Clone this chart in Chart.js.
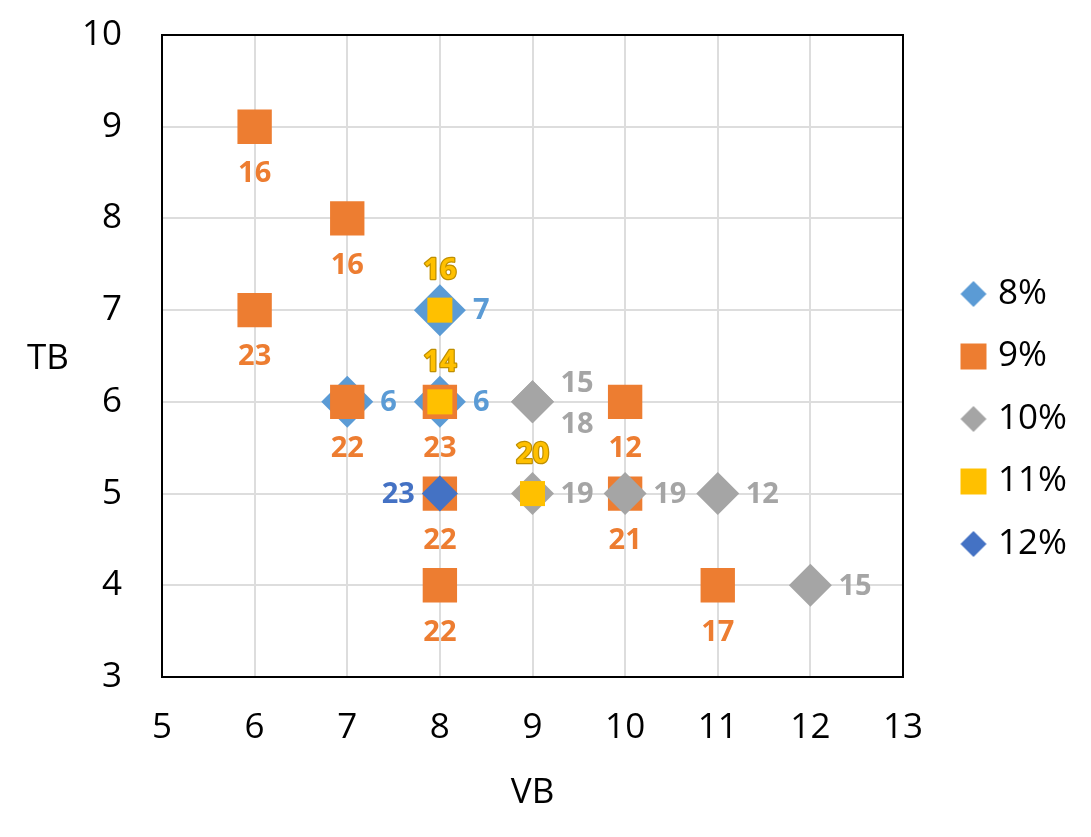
<!DOCTYPE html>
<html>
<head>
<meta charset="utf-8">
<script src="https://cdn.jsdelivr.net/npm/chart.js@4.4.1/dist/chart.umd.min.js"></script>
<style>
  html, body { margin: 0; padding: 0; background: #ffffff; }
  canvas { display: block; }
</style>
</head>
<body>
<canvas id="c" width="1091" height="837"></canvas>
<script>
// ---------- data ----------
const seriesNames = ['8%', '9%', '10%', '11%', '12%'];

const vb8  = [8, 7, 8];
const tb8  = [7, 6, 6];
const lbl8 = [7, 6, 6];

const vb9  = [6, 7, 6, 7, 8, 8, 8, 10, 10, 11];
const tb9  = [9, 8, 7, 6, 6, 5, 4, 6, 5, 4];
const lbl9 = [16, 16, 23, 22, 23, 22, 22, 12, 21, 17];

const vb10  = [9, 9, 9, 10, 11, 12];
const tb10  = [6, 6, 5, 5, 5, 4];
const lbl10 = [15, 18, 19, 19, 12, 15];

const vb11  = [8, 8, 9];
const tb11  = [7, 6, 5];
const lbl11 = [16, 14, 20];

const vb12  = [8];
const tb12  = [5];
const lbl12 = [23];

const xTicks = [5, 6, 7, 8, 9, 10, 11, 12, 13];
const yTicks = [3, 4, 5, 6, 7, 8, 9, 10];

// ---------- styling ----------
const FONT = "'Open Sans', 'DejaVu Sans', sans-serif";
const COLORS = ['#5B9BD5', '#ED7D31', '#A5A5A5', '#FFC000', '#4472C4'];

function pts(xs, ys) { return xs.map((x, i) => ({ x: x, y: ys[i] })); }

const datasetDefs = [
  { vb: vb8,  tb: tb8,  lbl: lbl8,  style: 'rectRot', radius: 26,   pos: null, defPos: 'right', gap: 33 },
  { vb: vb9,  tb: tb9,  lbl: lbl9,  style: 'rect',    radius: 24.3, pos: null, defPos: 'below', gap: 46 },
  { vb: vb10, tb: tb10, lbl: lbl10, style: 'rectRot', radius: 21.5, pos: ['rightUp', 'rightDown', 'right', 'right', 'right', 'right'], gap: 28 },
  { vb: vb11, tb: tb11, lbl: lbl11, style: 'rect',    radius: 17.7, pos: null, defPos: 'above', gap: 40, outline: '#BF8F00' },
  { vb: vb12, tb: tb12, lbl: lbl12, style: 'rectRot', radius: 18,   pos: null, defPos: 'left', gap: 25 }
];

const datasets = datasetDefs.map((d, i) => ({
  label: seriesNames[i],
  data: pts(d.vb, d.tb),
  order: datasetDefs.length - i,
  pointStyle: d.style,
  pointRadius: d.radius,
  pointHoverRadius: d.radius,
  pointBackgroundColor: COLORS[i],
  pointBorderColor: COLORS[i],
  pointBorderWidth: 0,
  backgroundColor: COLORS[i],
  borderColor: COLORS[i],
  showLine: false
}));

// legend marker images
function markerImage(style, color) {
  const c = document.createElement('canvas');
  c.width = 28; c.height = 28;
  const g = c.getContext('2d');
  g.fillStyle = color;
  if (style === 'rect') {
    g.fillRect(1, 1, 26, 26);
  } else {
    g.beginPath();
    g.moveTo(14, 1); g.lineTo(27, 14); g.lineTo(14, 27); g.lineTo(1, 14);
    g.closePath(); g.fill();
  }
  return c;
}
const legendImages = datasetDefs.map((d, i) => markerImage(d.style, COLORS[i]));

// ---------- plugins ----------
const layoutPlugin = {
  id: 'layoutTweak',
  beforeLayout(chart) {
    const lg = chart.legend;
    if (lg && !lg._patched) {
      const orig = lg.fit.bind(lg);
      lg.fit = function () { orig(); this.width = 188; };
      lg._patched = true;
    }
  },
  afterLayout(chart) {
    const lg = chart.legend;
    if (lg) { lg.left += 36; lg.top -= 17; lg.bottom -= 17; }
  }
};

const framePlugin = {
  id: 'frame',
  beforeDatasetsDraw(chart) {
    const a = chart.chartArea;
    const ctx = chart.ctx;
    ctx.save();
    ctx.strokeStyle = '#000000';
    ctx.lineWidth = 2;
    ctx.strokeRect(a.left, a.top, a.right - a.left, a.bottom - a.top);
    // horizontal y-axis title
    ctx.fillStyle = '#000000';
    ctx.font = '35px ' + FONT;
    ctx.textAlign = 'center';
    ctx.textBaseline = 'middle';
    ctx.fillText('TB', 48, (a.top + a.bottom) / 2 + 3);
    ctx.restore();
  }
};

const labelPlugin = {
  id: 'pointLabels',
  afterDatasetsDraw(chart) {
    const ctx = chart.ctx;
    ctx.save();
    ctx.font = 'bold 29px ' + FONT;
    ctx.textBaseline = 'middle';
    datasetDefs.forEach((d, di) => {
      const meta = chart.getDatasetMeta(di);
      meta.data.forEach((el, pi) => {
        const pos = d.pos ? d.pos[pi] : d.defPos;
        const text = String(d.lbl[pi]);
        let x = el.x, y = el.y + 1;
        if (pos === 'below') { ctx.textAlign = 'center'; y += d.gap; }
        else if (pos === 'above') { ctx.textAlign = 'center'; y -= d.gap; }
        else if (pos === 'right') { ctx.textAlign = 'left'; x += d.gap; }
        else if (pos === 'rightUp') { ctx.textAlign = 'left'; x += d.gap; y -= 19; }
        else if (pos === 'rightDown') { ctx.textAlign = 'left'; x += d.gap; y += 22; }
        else if (pos === 'left') { ctx.textAlign = 'right'; x -= d.gap; }
        if (d.outline) {
          ctx.lineWidth = 2.5;
          ctx.strokeStyle = d.outline;
          ctx.lineJoin = 'round';
          ctx.strokeText(text, x, y);
        }
        ctx.fillStyle = COLORS[di];
        ctx.fillText(text, x, y);
      });
    });
    ctx.restore();
  }
};

// ---------- chart ----------
new Chart(document.getElementById('c'), {
  type: 'scatter',
  data: { datasets: datasets },
  options: {
    responsive: false,
    animation: false,
    devicePixelRatio: 1,
    layout: { padding: { top: 35, left: 0, right: 0, bottom: 0 } },
    plugins: {
      tooltip: { enabled: false },
      legend: {
        position: 'right',
        align: 'center',
        labels: {
          usePointStyle: true,
          boxWidth: 14,
          padding: 27.5,
          color: '#000000',
          font: { family: FONT, size: 35 },
          generateLabels(chart) {
            const items = Chart.defaults.plugins.legend.labels.generateLabels(chart);
            items.sort((a, b) => a.datasetIndex - b.datasetIndex);
            items.forEach(it => { it.pointStyle = legendImages[it.datasetIndex]; });
            return items;
          }
        }
      }
    },
    scales: {
      x: {
        type: 'linear',
        min: 5, max: 13,
        afterBuildTicks(scale) { scale.ticks = xTicks.map(v => ({ value: v })); },
        afterFit(scale) { scale.height = 160; },
        grid: { color: '#dddddd', lineWidth: 2, drawTicks: false },
        border: { display: false },
        ticks: { color: '#000000', padding: 30, font: { family: FONT, size: 35 } },
        title: { display: true, text: 'VB', color: '#000000', font: { family: FONT, size: 35 }, padding: { top: 0, bottom: 23 } }
      },
      y: {
        type: 'linear',
        min: 3, max: 10,
        afterBuildTicks(scale) { scale.ticks = yTicks.map(v => ({ value: v })); },
        afterFit(scale) { scale.width = 162; scale.paddingTop = 0; scale.paddingBottom = 0; },
        grid: { color: '#dddddd', lineWidth: 2, drawTicks: false },
        border: { display: false },
        ticks: { color: '#000000', padding: 40, font: { family: FONT, size: 35 } }
      }
    }
  },
  plugins: [layoutPlugin, framePlugin, labelPlugin]
});
</script>
</body>
</html>
